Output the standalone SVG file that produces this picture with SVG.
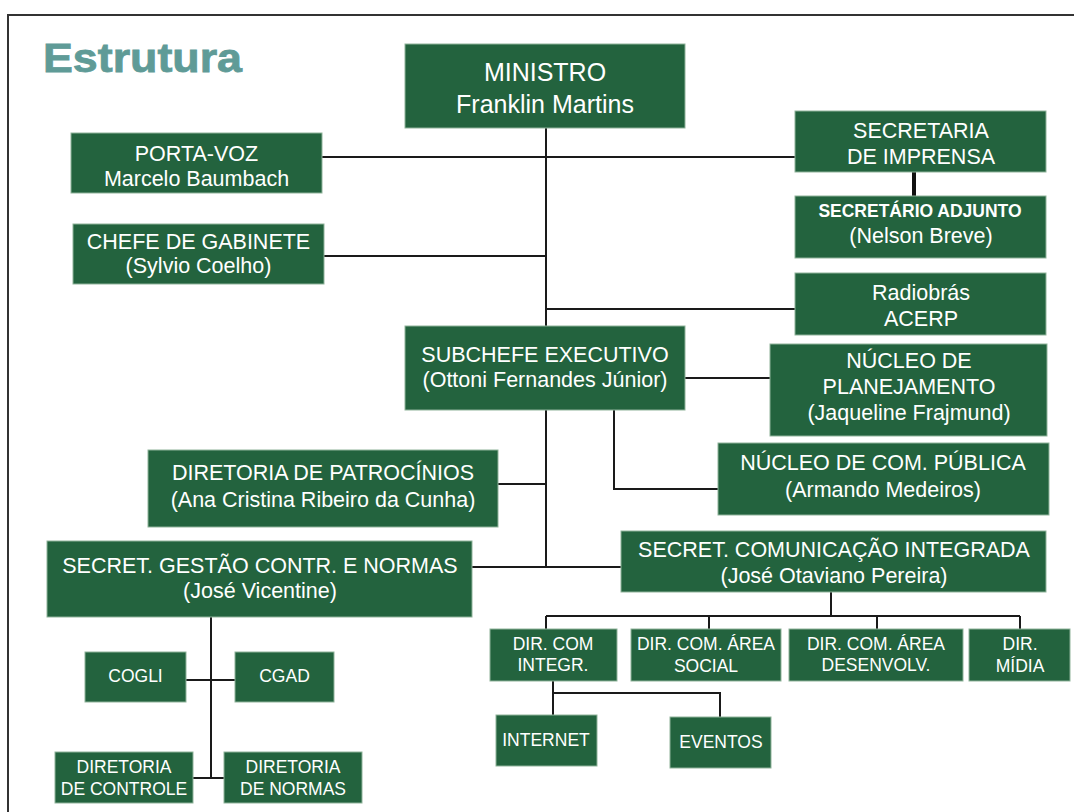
<svg xmlns="http://www.w3.org/2000/svg" width="1074" height="812" viewBox="0 0 1074 812">
<style>
.b{fill:#23633e;stroke:#8fb39a;stroke-width:1}
.t{font-family:"Liberation Sans",Arial,sans-serif;fill:#fff;text-anchor:middle;font-size:21.5px}
.s{font-size:17.5px}
.m{font-size:25px}
.a{font-size:17.5px;font-weight:bold}
.c{fill:none;stroke:#1a1a1a;stroke-width:2}
</style>
<rect width="1074" height="812" fill="#fff"/>
<path d="M8 812V15H1074" fill="none" stroke="#333" stroke-width="2"/>
<text x="43" y="72" font-family="'Liberation Sans',Arial,sans-serif" font-weight="bold" font-size="40" fill="#5f9b97" stroke="#5f9b97" stroke-width="0.8" textLength="199" lengthAdjust="spacingAndGlyphs">Estrutura</text>
<g id="connectors">
<path class="c" d="M546 128V567M322 157H795M324 256H546M546 309H795M684 378H770M614 410V489H718M498 484H546M472 567H621M831 592V616M546 616H1020M546 616V629M709 616V629M877 616V629M1020 616V629M553 681V693H720V717M553 693V715M211 617V778M185 680H235M193 778H224"/>
<path d="M914 172V196" stroke="#111" stroke-width="4"/>
</g>
<g id="ministro"><rect class="b" x="405" y="44" width="280" height="84"/><text class="t m" x="545" y="81">MINISTRO</text><text class="t m" x="545" y="113">Franklin Martins</text></g>
<g id="portavoz"><rect class="b" x="71" y="133" width="251" height="60"/><text class="t" x="196.5" y="161">PORTA-VOZ</text><text class="t" x="196.5" y="186">Marcelo Baumbach</text></g>
<g id="chefe"><rect class="b" x="73" y="224" width="251" height="60"/><text class="t" x="198.5" y="249">CHEFE DE GABINETE</text><text class="t" x="198.5" y="273">(Sylvio Coelho)</text></g>
<g id="secimprensa"><rect class="b" x="795" y="111" width="251" height="61"/><text class="t" x="921" y="138">SECRETARIA</text><text class="t" x="921" y="164">DE IMPRENSA</text></g>
<g id="adjunto"><rect class="b" x="795" y="196" width="251" height="62"/><text class="t a" x="920" y="217">SECRETÁRIO ADJUNTO</text><text class="t" x="921" y="243">(Nelson Breve)</text></g>
<g id="radiobras"><rect class="b" x="795" y="273" width="251" height="62"/><text class="t" x="921" y="300">Radiobrás</text><text class="t" x="921" y="326">ACERP</text></g>
<g id="subchefe"><rect class="b" x="405" y="326" width="280" height="84"/><text class="t" x="545" y="362">SUBCHEFE EXECUTIVO</text><text class="t" x="545" y="387">(Ottoni Fernandes Júnior)</text></g>
<g id="planejamento"><rect class="b" x="770" y="344" width="277" height="92"/><text class="t" x="909" y="368">NÚCLEO DE</text><text class="t" x="909" y="394">PLANEJAMENTO</text><text class="t" x="909" y="420">(Jaqueline Frajmund)</text></g>
<g id="compublica"><rect class="b" x="718" y="443" width="331" height="72"/><text class="t" x="883" y="470">NÚCLEO DE COM. PÚBLICA</text><text class="t" x="883" y="497">(Armando Medeiros)</text></g>
<g id="patrocinios"><rect class="b" x="148" y="450" width="350" height="77"/><text class="t" x="323" y="480">DIRETORIA DE PATROCÍNIOS</text><text class="t" x="323" y="507">(Ana Cristina Ribeiro da Cunha)</text></g>
<g id="sgcn"><rect class="b" x="47" y="541" width="425" height="76"/><text class="t" x="260" y="573">SECRET. GESTÃO CONTR. E NORMAS</text><text class="t" x="260" y="598">(José Vicentine)</text></g>
<g id="sci"><rect class="b" x="621" y="531" width="425" height="61"/><text class="t" x="834" y="557">SECRET. COMUNICAÇÃO INTEGRADA</text><text class="t" x="834" y="583">(José Otaviano Pereira)</text></g>
<g id="dircomintegr"><rect class="b" x="490" y="629" width="127" height="52"/><text class="t s" x="553" y="650">DIR. COM</text><text class="t s" x="553" y="671">INTEGR.</text></g>
<g id="dirsocial"><rect class="b" x="631" y="629" width="150" height="52"/><text class="t s" x="706" y="650">DIR. COM. ÁREA</text><text class="t s" x="706" y="672">SOCIAL</text></g>
<g id="dirdesenv"><rect class="b" x="789" y="629" width="174" height="52"/><text class="t s" x="876" y="650">DIR. COM. ÁREA</text><text class="t s" x="876" y="671">DESENVOLV.</text></g>
<g id="dirmidia"><rect class="b" x="969" y="629" width="101" height="52"/><text class="t s" x="1020" y="650">DIR.</text><text class="t s" x="1020" y="672">MÍDIA</text></g>
<g id="internet"><rect class="b" x="496" y="715" width="101" height="51"/><text class="t s" x="546" y="746">INTERNET</text></g>
<g id="eventos"><rect class="b" x="670" y="717" width="101" height="51"/><text class="t s" x="721" y="748">EVENTOS</text></g>
<g id="cogli"><rect class="b" x="85" y="652" width="101" height="50"/><text class="t s" x="135.5" y="682">COGLI</text></g>
<g id="cgad"><rect class="b" x="235" y="652" width="99" height="50"/><text class="t s" x="284.5" y="682">CGAD</text></g>
<g id="dircontrole"><rect class="b" x="55" y="752" width="138" height="51"/><text class="t s" x="124" y="773">DIRETORIA</text><text class="t s" x="124" y="795">DE CONTROLE</text></g>
<g id="dirnormas"><rect class="b" x="224" y="752" width="138" height="51"/><text class="t s" x="293" y="773">DIRETORIA</text><text class="t s" x="293" y="795">DE NORMAS</text></g>
</svg>
